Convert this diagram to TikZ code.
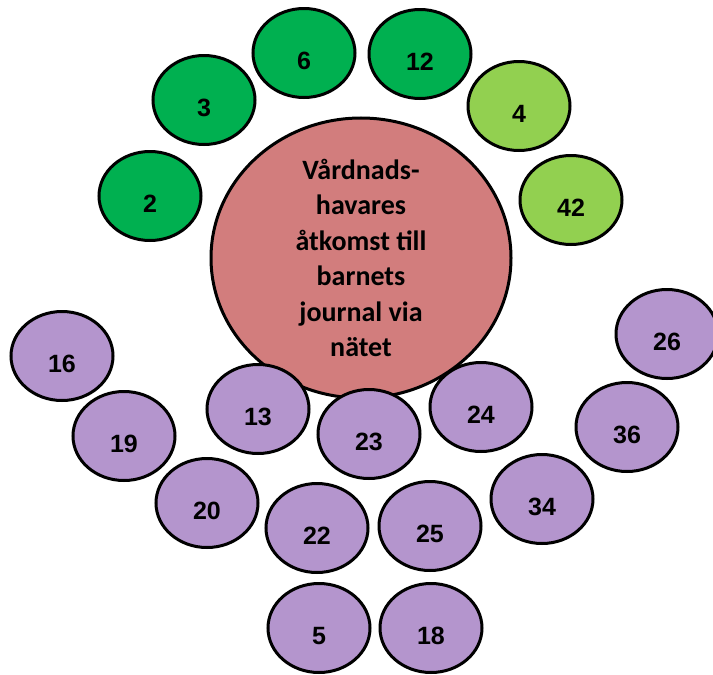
\documentclass[tikz,border=0pt]{standalone}
\usepackage{fontspec}
\setmainfont{Carlito}
\newfontfamily\numfont{Liberation Sans}
\usetikzlibrary{shapes.geometric}
\definecolor{darkgreen}{RGB}{0,176,80}
\definecolor{lightgreen}{RGB}{146,208,80}
\definecolor{lilac}{RGB}{180,149,205}
\definecolor{rose}{RGB}{210,125,125}
\tikzset{
  seat/.style={ellipse, draw=black, line width=3pt, minimum width=102pt,
    minimum height=89pt, inner sep=0pt, text height=32pt, text depth=0pt,
    font=\numfont\bfseries\fontsize{25}{30}\selectfont},
  kidseat/.style={seat, fill=lilac},
  topseat/.style={seat, fill=darkgreen},
  newseat/.style={seat, fill=lightgreen}
}
\begin{document}
\begin{tikzpicture}[x=1pt,y=-1pt]
    \useasboundingbox (0,0) rectangle (713,675);
    % the theme in the middle
    \node[ellipse, draw=black, line width=3pt, fill=rose, minimum width=300pt,
      minimum height=242pt, inner sep=0pt, align=center,
      font=\bfseries\fontsize{28}{35.5}\selectfont] (theme) at (361,258)
      {Vårdnads-\\havares\\åtkomst till\\barnets\\journal via\\nätet};
    % green ones above
    \node[topseat] (n2) at (150,196) {2};
    \node[topseat] (n3) at (204,100) {3};
    \node[topseat] (n6) at (304,53) {6};
    \node[topseat] (n12) at (420,54) {12};
    \node[newseat] (n4) at (519,106) {4};
    \node[newseat] (n42) at (571,200) {42};
    % purple ones below
    \node[kidseat] (n16) at (62,356) {16};
    \node[kidseat] (n19) at (124,436) {19};
    \node[kidseat] (n20) at (207,503) {20};
    \node[kidseat] (n13) at (258,409) {13};
    \node[kidseat] (n23) at (369,434) {23};
    \node[kidseat] (n24) at (481,407) {24};
    \node[kidseat] (n22) at (317,528) {22};
    \node[kidseat] (n25) at (430,526) {25};
    \node[kidseat] (n5) at (319,628) {5};
    \node[kidseat] (n18) at (431,628) {18};
    \node[kidseat] (n34) at (542,499) {34};
    \node[kidseat] (n36) at (627,427) {36};
    \node[kidseat] (n26) at (667,334) {26};
\end{tikzpicture}
\end{document}
